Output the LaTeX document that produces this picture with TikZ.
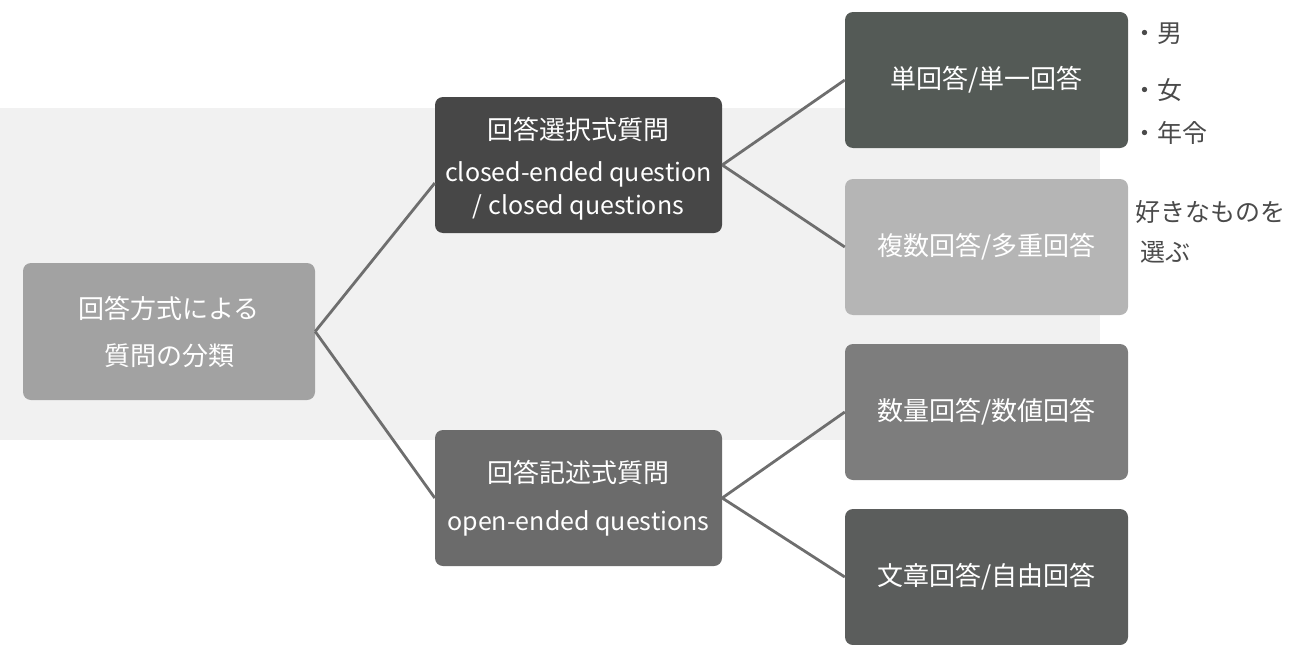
\documentclass[tikz,border=0pt]{standalone}
\usepackage{fontspec}
\setmainfont{Noto Sans CJK JP}
\usetikzlibrary{calc}
\definecolor{bgfaint}{HTML}{F1F1F1}
\definecolor{cRoot}{HTML}{A2A2A2}
\definecolor{cClosed}{HTML}{474747}
\definecolor{cOpen}{HTML}{6B6B6B}
\definecolor{cRa}{HTML}{545A56}
\definecolor{cRb}{HTML}{B5B5B5}
\definecolor{cRc}{HTML}{7D7D7D}
\definecolor{cRd}{HTML}{5B5D5C}
\definecolor{cLine}{HTML}{6E6E6E}
\definecolor{cHand}{HTML}{4A4A4A}
\begin{document}
\begin{tikzpicture}[x=1pt,y=-1pt,
  box/.style={rounded corners=8pt, text=white, align=center, inner sep=0pt,
    font=\fontsize{26}{44}\selectfont},
  conn/.style={draw=cLine, line width=2.8pt},
  hand/.style={text=cHand, font=\fontsize{25}{40}\selectfont, anchor=west, inner sep=0pt}]
\useasboundingbox (0,0) rectangle (1304,645);
\fill[bgfaint] (0,108) rectangle (1100,440);
% boxes
\node[box, fill=cRoot, minimum width=292pt, minimum height=137pt] (root) at (169,331.5)
  {回答方式による\\[3pt]質問の分類};
\node[box, fill=cClosed, minimum width=287pt, minimum height=136pt] (closed) at (578.5,165)
  {\raisebox{0pt}[\dimexpr\height+8pt]{回答選択式質問}\\[-2pt]{\fontsize{25}{34}\selectfont closed-ended question}\\[-11pt]{\fontsize{25}{34}\selectfont / closed questions}};
\node[box, fill=cOpen, minimum width=287pt, minimum height=136pt] (open) at (578.5,498)
  {回答記述式質問\\[4pt]{\fontsize{25}{34}\selectfont open-ended questions}};
\node[box, fill=cRa, minimum width=283pt, minimum height=136pt] (ra) at (986.5,80) {単回答/単一回答};
\node[box, fill=cRb, minimum width=283pt, minimum height=136pt] (rb) at (986.5,247) {複数回答/多重回答};
\node[box, fill=cRc, minimum width=283pt, minimum height=136pt] (rc) at (986.5,412) {数量回答/数値回答};
\node[box, fill=cRd, minimum width=283pt, minimum height=136pt] (rd) at (986.5,577) {文章回答/自由回答};
% connectors
\draw[conn] (root.east) -- ($(closed.west)+(0,18)$);
\draw[conn] (root.east) -- (open.west);
\draw[conn] (closed.east) -- (ra.west);
\draw[conn] (closed.east) -- (rb.west);
\draw[conn] (open.east) -- (rc.west);
\draw[conn] (open.east) -- (rd.west);
% handwritten notes
\node[hand] (h1) at (1132,34) {・男};
\node[hand] (h2) at (1132,90) {・女};
\node[hand] (h3) at (1132,133) {・年令};
\node[hand] (h4) at (1135,212) {好きなものを};
\node[hand] (h5) at (1140,252) {選ぶ};
\end{tikzpicture}
\end{document}
